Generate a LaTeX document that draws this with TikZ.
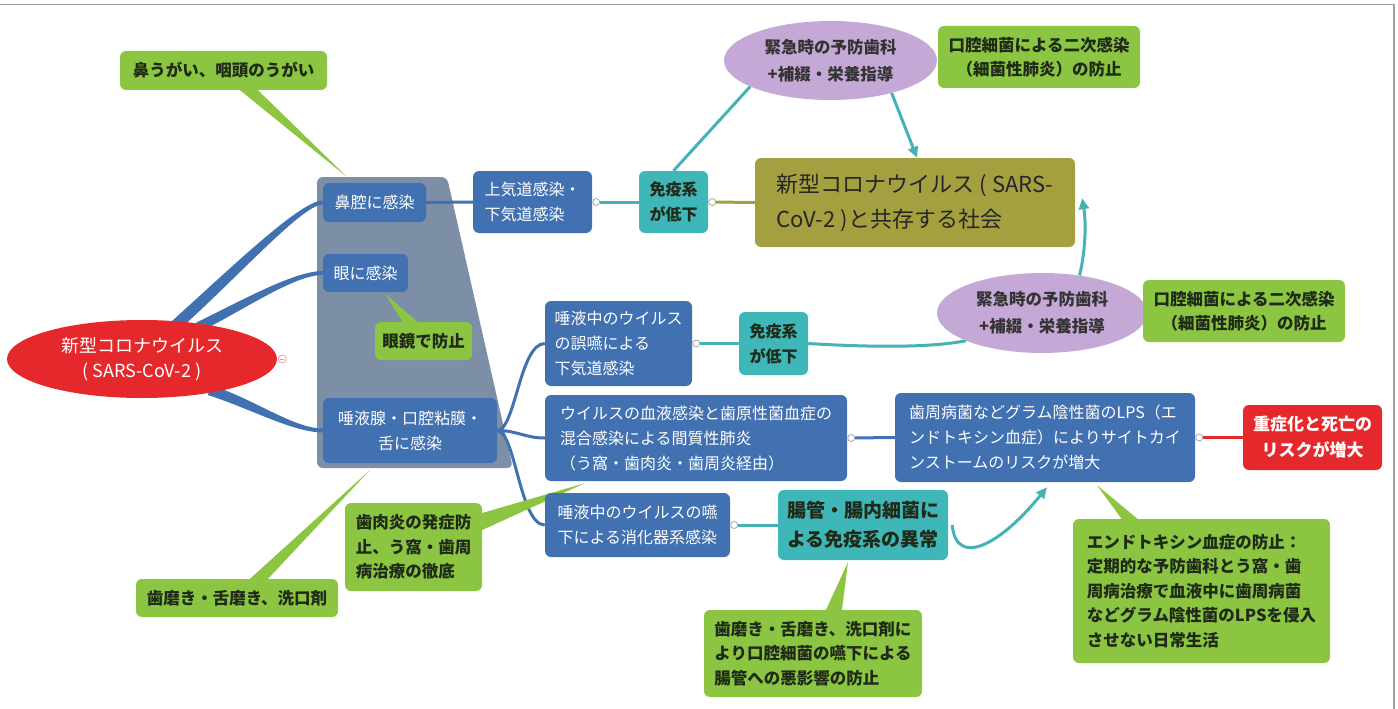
\documentclass[tikz,border=0pt]{standalone}
\usepackage{fontspec}
\newfontfamily\jp{Noto Sans CJK JP}
\usetikzlibrary{arrows.meta,calc,shapes.geometric}
\definecolor{cblue}{HTML}{4171B0}
\definecolor{ctrap}{HTML}{7D8FA7}
\definecolor{cteal}{HTML}{3FB6B8}
\definecolor{ctealline}{HTML}{45B2B5}
\definecolor{colive}{HTML}{A4A03F}
\definecolor{cpurple}{HTML}{C4A9D7}
\definecolor{cgreen}{HTML}{8BC541}
\definecolor{cred}{HTML}{E4282B}
\definecolor{cdark}{HTML}{1F2A18}
\pgfdeclarelayer{bg}
\pgfsetlayers{bg,main}
\begin{document}
\begin{tikzpicture}[x=1pt,y=-1pt,
  box/.style={rectangle,rounded corners=6pt,inner sep=0pt,align=center,font=\jp\fontsize{16}{25}\selectfont},
  bluebox/.style={box,fill=cblue,text=white},
  tealbox/.style={box,fill=cteal,text=cdark,font=\jp\bfseries\fontsize{16}{25}\selectfont},
  greenbox/.style={box,fill=cgreen,text=cdark,font=\jp\bfseries\fontsize{16.5}{24.5}\selectfont},
  olivebox/.style={box,fill=colive,text=black!85,font=\jp\fontsize{22}{35}\selectfont},
  redbox/.style={box,fill=cred,text=white,font=\jp\bfseries\fontsize{17}{26}\selectfont},
  purpleoval/.style={ellipse,fill=cpurple,inner sep=0pt,align=center,text=black!80,minimum width=213pt,minimum height=79pt,font=\jp\bfseries\fontsize{16.5}{27}\selectfont},
  dot/.style={circle,draw=gray!70,fill=white,line width=0.8pt,minimum size=7pt,inner sep=0pt},
  bcon/.style={draw=cblue,line width=3pt},
  tcon/.style={draw=ctealline,line width=3pt},
  ocon/.style={draw=colive,line width=3pt},
  rcon/.style={draw=cred,line width=2.5pt},
  tarrow/.style={tcon,-{Triangle[length=11pt,width=10pt]}},
  wedge/.style={fill=cgreen}
]
\useasboundingbox (0,0) rectangle (1398,709);
\draw[gray!75,line width=1.5pt] (0,4.5) -- (1394,4.5) -- (1394,709);

% ---- nodes ----
\node[ellipse,fill=cred,minimum width=270pt,minimum height=78pt,inner sep=0pt,align=center,text=white,font=\jp\fontsize{18}{25}\selectfont] (virus) at (142,359) {新型コロナウイルス\\( SARS-CoV-2 )};
\node[greenbox,minimum width=207pt,minimum height=39pt] (gnose) at (223.5,70.5) {鼻うがい、咽頭のうがい};
\node[bluebox,minimum width=103pt,minimum height=39pt] (nasal) at (374.5,202.5) {鼻腔に感染};
\node[bluebox,minimum width=85pt,minimum height=38pt] (eye) at (365.5,273) {眼に感染};
\node[greenbox,minimum width=97pt,minimum height=38pt] (glass) at (423.5,341) {眼鏡で防止};
\node[bluebox,minimum width=174pt,minimum height=65pt] (gland) at (410,430.5) {唾液腺・口腔粘膜・\\舌に感染};
\node[bluebox,align=left,minimum width=119pt,minimum height=62pt] (upper) at (532.5,202) {上気道感染・\\下気道感染};
\node[tealbox,minimum width=69pt,minimum height=62pt] (imm1) at (673.5,202) {免疫系\\が低下};
\node[olivebox,align=left,minimum width=320pt,minimum height=89pt] (society) at (915,202.5) {新型コロナウイルス ( SARS-\\CoV-2 )と共存する社会};
\node[purpleoval] (pur1) at (830.5,60.5) {緊急時の予防歯科\\+補綴・栄養指導};
\node[greenbox,minimum width=202pt,minimum height=62pt] (g1) at (1039,57) {口腔細菌による二次感染\\（細菌性肺炎）の防止};
\node[bluebox,align=left,minimum width=147pt,minimum height=85pt] (aspir) at (618.5,343.5) {唾液中のウイルス\\の誤嚥による\\下気道感染};
\node[tealbox,minimum width=69pt,minimum height=63pt] (imm2) at (773.5,343.5) {免疫系\\が低下};
\node[purpleoval,minimum width=210pt,minimum height=80pt] (pur2) at (1042,313) {緊急時の予防歯科\\+補綴・栄養指導};
\node[greenbox,minimum width=202pt,minimum height=62pt] (g2) at (1244,311) {口腔細菌による二次感染\\（細菌性肺炎）の防止};
\node[bluebox,align=left,minimum width=302pt,minimum height=86pt] (blood) at (696,438) {ウイルスの血液感染と歯原性菌血症の\\混合感染による間質性肺炎\\（う窩・歯肉炎・歯周炎経由）};
\node[bluebox,align=left,minimum width=300pt,minimum height=89pt] (perio) at (1045,437.5) {歯周病菌などグラム陰性菌のLPS（エ\\ンドトキシン血症）によりサイトカイ\\ンストームのリスクが増大};
\node[redbox,minimum width=139pt,minimum height=65pt] (severe) at (1312.5,437.5) {重症化と死亡の\\リスクが増大};
\node[bluebox,align=left,minimum width=185pt,minimum height=64pt] (swallow) at (637.5,525) {唾液中のウイルスの嚥\\下による消化器系感染};
\node[tealbox,minimum width=170pt,minimum height=70pt,font=\jp\bfseries\fontsize{19}{29}\selectfont] (gut) at (863,525) {腸管・腸内細菌に\\よる免疫系の異常};
\node[greenbox,align=left,minimum width=137pt,minimum height=88pt] (ging) at (413.5,547) {歯肉炎の発症防\\止、う窩・歯周\\病治療の徹底};
\node[greenbox,minimum width=202pt,minimum height=38pt] (brush) at (237,598) {歯磨き・舌磨き、洗口剤};
\node[greenbox,align=left,minimum width=218pt,minimum height=87pt] (brush2) at (813,653.5) {歯磨き・舌磨き、洗口剤に\\より口腔細菌の嚥下による\\腸管への悪影響の防止};
\node[greenbox,align=left,minimum width=257pt,minimum height=144pt] (endo) at (1201.5,591) {エンドトキシン血症の防止：\\定期的な予防歯科とう窩・歯\\周病治療で血液中に歯周病菌\\などグラム陰性菌のLPSを侵入\\させない日常生活};

% collapse markers
\node[dot] (d1) at ($(upper.east)+(4,0)$) {};
\node[dot] (d2) at ($(imm1.east)+(4,0)$) {};
\node[dot] (d3) at ($(aspir.east)+(4,0)$) {};
\node[dot] (d4) at ($(blood.east)+(4,0)$) {};
\node[dot] (d5) at ($(perio.east)+(4,0)$) {};
\node[dot] (d6) at ($(swallow.east)+(4,0)$) {};
\node[circle,draw=red!45,fill=white,line width=0.7pt,minimum size=8pt,inner sep=0pt] (d0) at ($(virus.east)+(5,0)$) {};
\draw[red!45,line width=0.7pt] ($(d0)+(-2,0)$) -- ($(d0)+(2,0)$);

\begin{pgfonlayer}{bg}
% grey group
\coordinate (tA) at (317,177);
\coordinate (tB) at (447,177);
\coordinate (tC) at (513,468);
\coordinate (tD) at (317,468);
\fill[ctrap,rounded corners=6pt] (tA) -- (tB) -- (tC) -- (tD) -- cycle;

% thick tapered branches
\coordinate (s1) at ($(virus.45)+(-4,4)$);
\coordinate (e1) at (nasal.west);
\fill[cblue] ($(s1)+(-4,-4)$) .. controls ($(s1)+(58,-60)$) and ($(e1)+(-22,-2)$) .. ($(e1)+(0,-2)$)
  -- ($(e1)+(0,2)$) .. controls ($(e1)+(-20,2)$) and ($(s1)+(66,-52)$) .. ($(s1)+(4,4)$) -- cycle;
\coordinate (s2) at ($(virus.30)+(-4,3)$);
\coordinate (e2) at (eye.west);
\fill[cblue] ($(s2)+(-2.2,-4.5)$) .. controls ($(s2)+(46,-28)$) and ($(e2)+(-28,-2)$) .. ($(e2)+(0,-2)$)
  -- ($(e2)+(0,2)$) .. controls ($(e2)+(-28,2)$) and ($(s2)+(50,-20)$) .. ($(s2)+(2.2,4.5)$) -- cycle;
\coordinate (s3) at ($(virus.-25)+(-4,-2)$);
\coordinate (e3) at (gland.west);
\fill[cblue] ($(s3)+(1.5,-4.8)$) .. controls ($(s3)+(42,7)$) and ($(e3)+(-30,-2)$) .. ($(e3)+(0,-2)$)
  -- ($(e3)+(0,2)$) .. controls ($(e3)+(-30,2)$) and ($(s3)+(38,17)$) .. ($(s3)+(-1.5,4.8)$) -- cycle;

% thin branches
\draw[bcon] (nasal.east) -- (upper.west);
\draw[bcon] (gland.east) .. controls +(18,0) and +(-25,0) .. (aspir.west);
\draw[bcon] (gland.east) .. controls +(20,0) and +(-20,0) .. (blood.west);
\draw[bcon] (gland.east) .. controls +(18,0) and +(-25,0) .. (swallow.west);
\draw[tcon] (d1) -- (imm1.west);
\draw[ocon] (d2) -- (society.west);
\draw[tcon] (d3) -- (imm2.west);
\draw[bcon] (d4) -- (perio.west);
\draw[rcon] (d5) -- (severe.west);
\draw[tcon] (d6) -- (gut.west);
\draw[tcon] (imm1.north) -- (pur1.198);
\draw[tcon] (imm2.east) .. controls +(50,3) and +(-40,8) .. (pur2.200);

% relations (arrows)
\coordinate (a1) at ($(society.north)+(2,0)$);
\draw[tarrow] (pur1.-28) -- (a1);
\coordinate (a2) at ($(society.south east)+(7,-49)$);
\draw[tarrow] (pur2.45) .. controls +(6,-25) and +(4,25) .. (a2);
\coordinate (a3) at ($(perio.south)+(2,5)$);
\draw[tarrow] ($(gut.east)+(4,0)$) .. controls +(4,43) and +(-47,58) .. (a3);

% note callouts
\fill[wedge] ($(gnose.south)+(16.5,0)$) -- ($(gnose.south)+(34.5,0)$) -- ($(tA)+(30,0)$) -- cycle;
\fill[wedge] ($(glass.north)+(-21,0)$) -- ($(glass.north)+(-6,0)$) -- ($(eye.south)+(20,2)$) -- cycle;
\fill[wedge] ($(brush.north)+(13,0)$) -- ($(brush.north)+(31,0)$) -- ($(tD)+(53,2)$) -- cycle;
\fill[wedge] ($(ging.east)+(0,-34)$) -- ($(ging.east)+(0,-17)$) -- ($(blood.south west)+(40,2)$) -- cycle;
\fill[wedge] ($(brush2.north)+(13,0)$) -- ($(brush2.north)+(29,0)$) -- ($(gut.south)+(-15,2)$) -- cycle;
\fill[wedge] ($(endo.north)+(-80,0)$) -- ($(endo.north)+(-64,0)$) -- ($(perio.south)+(52,3)$) -- cycle;
\end{pgfonlayer}
\end{tikzpicture}
\end{document}
